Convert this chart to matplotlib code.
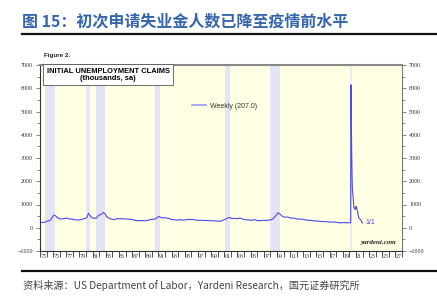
import matplotlib
matplotlib.use("Agg")
import matplotlib.pyplot as plt
import matplotlib.dates as mdates
import pandas as pd
from matplotlib.lines import Line2D

# ---------------- data ----------------
quarter_start = "1973-01-01"
quarter_end = "2019-12-31"
claims_quarterly = [
    230, 225, 235, 250,   # 1973
    290, 300, 340, 460,   # 1974
    545, 510, 440, 400,   # 1975
    380, 375, 400, 400,   # 1976
    420, 380, 370, 380,   # 1977
    350, 340, 340, 335,   # 1978
    345, 360, 385, 400,   # 1979
    440, 620, 520, 420,   # 1980
    420, 400, 430, 530,   # 1981
    560, 590, 660, 610,   # 1982
    480, 430, 390, 375,   # 1983
    350, 360, 385, 385,   # 1984
    385, 390, 390, 380,   # 1985
    375, 370, 370, 360,   # 1986
    340, 330, 310, 300,   # 1987
    310, 305, 310, 300,   # 1988
    300, 320, 340, 360,   # 1989
    360, 370, 400, 460,   # 1990
    480, 440, 430, 435,   # 1991
    420, 410, 400, 360,   # 1992
    350, 350, 335, 330,   # 1993
    340, 350, 330, 330,   # 1994
    340, 360, 360, 350,   # 1995
    360, 350, 330, 330,   # 1996
    320, 320, 320, 315,   # 1997
    310, 310, 310, 305,   # 1998
    300, 300, 290, 290,   # 1999
    285, 280, 300, 330,   # 2000
    360, 400, 430, 440,   # 2001
    390, 400, 400, 390,   # 2002
    400, 420, 400, 360,   # 2003
    350, 340, 340, 330,   # 2004
    320, 330, 350, 320,   # 2005
    300, 310, 310, 320,   # 2006
    320, 310, 320, 340,   # 2007
    350, 375, 450, 530,   # 2008
    640, 610, 550, 480,   # 2009
    460, 460, 460, 440,   # 2010
    410, 420, 410, 390,   # 2011
    370, 380, 370, 370,   # 2012
    350, 340, 320, 320,   # 2013
    320, 305, 295, 290,   # 2014
    290, 280, 270, 270,   # 2015
    265, 260, 260, 250,   # 2016
    245, 240, 250, 240,   # 2017
    225, 220, 210, 220,   # 2018
    220, 215, 215, 215,   # 2019
]

recent_dates = [
    "2020-01-04", "2020-02-08", "2020-03-07", "2020-03-14", "2020-03-21",
    "2020-03-28", "2020-04-04", "2020-04-11", "2020-04-18", "2020-04-25",
    "2020-05-09", "2020-05-23", "2020-06-06", "2020-06-20", "2020-07-04",
    "2020-07-25", "2020-08-15", "2020-08-29", "2020-09-19", "2020-10-10",
    "2020-10-31", "2020-11-21", "2020-12-12", "2021-01-09", "2021-01-30",
    "2021-02-20", "2021-03-13", "2021-04-03", "2021-04-24", "2021-05-15",
    "2021-06-05", "2021-06-26", "2021-07-17", "2021-08-07", "2021-08-28",
    "2021-09-18", "2021-10-09", "2021-10-30", "2021-11-20", "2021-12-11",
    "2022-01-01",
]
recent_claims = [
    215, 215, 215, 280, 3300,
    6150, 6100, 5600, 4800, 4100,
    3300, 2600, 2000, 1600, 1500,
    1350, 1150, 900, 870, 840,
    800, 780, 880, 920, 840,
    820, 760, 700, 600, 500,
    430, 410, 390, 380, 360,
    350, 320, 290, 240, 210,
    207,
]

recessions = [
    ("1973-11-01", "1975-03-31"),
    ("1980-01-01", "1980-07-31"),
    ("1981-07-01", "1982-11-30"),
    ("1990-07-01", "1991-03-31"),
    ("2001-03-01", "2001-11-30"),
    ("2007-12-01", "2009-06-30"),
    ("2020-02-01", "2020-04-30"),
]

legend_label = "Weekly (207.0)"
last_label = "1/1"

# ---------------- figure ----------------
plt.rcParams['font.family'] = ['Noto Sans CJK SC', 'DejaVu Sans']
fig = plt.figure(figsize=(4.37, 3.07), dpi=100)
W, H = 437, 307

ax = fig.add_axes([40 / W, 1 - 251 / H, 362 / W, 186 / H])
ax.set_facecolor("#ffffe3")

q_dates = pd.date_range(quarter_start, quarter_end, freq="QS") + pd.Timedelta(days=45)
x_all = list(q_dates) + list(pd.to_datetime(recent_dates))
y_all = claims_quarterly + recent_claims

for i, (s, e) in enumerate(recessions):
    col = "#e4e4f6" if i < len(recessions) - 1 else "#ececf2"
    ax.axvspan(pd.Timestamp(s), pd.Timestamp(e), color=col, lw=0, zorder=1)

ax.plot(x_all, y_all, color="#4a4af0", lw=0.8, zorder=3)

ax.set_xlim(pd.Timestamp("1973-01-01"), pd.Timestamp("2028-01-01"))
ax.set_ylim(-1000, 7000)

# x ticks: every year, labels at mid-year of odd years
ax.xaxis.set_major_locator(mdates.YearLocator(1))
ax.xaxis.set_major_formatter(plt.NullFormatter())
lab_pos = [pd.Timestamp(f"{y}-07-01") for y in range(1973, 2028, 2)]
ax.xaxis.set_minor_locator(plt.FixedLocator(mdates.date2num(lab_pos)))
ax.xaxis.set_minor_formatter(plt.FixedFormatter([f"{y % 100:02d}" for y in range(1973, 2028, 2)]))
ax.tick_params(axis="x", which="major", direction="out", length=4, width=0.6, color="#333333")
ax.tick_params(axis="x", which="minor", length=0, pad=2, labelsize=4.3, labelcolor="#333333")

# y ticks on both sides
ax.set_yticks(range(-1000, 7001, 1000))
ax.set_yticks(range(-500, 7000, 1000), minor=True)
ax.tick_params(axis="y", which="both", direction="out", left=True, right=True,
               labelleft=True, labelright=True, width=0.5, color="#555555",
               labelsize=4.3, labelcolor="#333333", pad=2)
ax.tick_params(axis="y", which="major", length=3)
ax.tick_params(axis="y", which="minor", length=2)
for lab in ax.get_xticklabels(which="minor") + ax.get_yticklabels():
    lab.set_family(["Liberation Serif"])

for side, (c, w) in {"left": ("#333333", 0.8), "bottom": ("#333333", 0.8),
                     "right": ("#777777", 0.8), "top": ("#888888", 1.5)}.items():
    ax.spines[side].set_color(c)
    ax.spines[side].set_linewidth(w)

# title box
ax.text(0.018, 0.985, "INITIAL UNEMPLOYMENT CLAIMS\n(thousands, sa)", transform=ax.transAxes,
        ha="left", va="top", fontsize=5.4, fontweight="bold", family=["Liberation Sans"],
        linespacing=1.0, multialignment="center",
        bbox=dict(boxstyle="square,pad=0.45", fc="white", ec="#555555", lw=0.6), zorder=5)

# legend
leg = ax.legend([Line2D([0], [0], color="#9a9af5", lw=1.2)], [legend_label],
                loc="upper left", bbox_to_anchor=(0.41, 0.815), frameon=False,
                prop={"family": "Liberation Sans", "size": 5}, handlelength=2.0,
                handletextpad=0.6, borderpad=0)
for t in leg.get_texts():
    t.set_color("#333333")

ax.annotate(last_label, xy=(x_all[-1], y_all[-1]), xytext=(2, 0), textcoords="offset points",
            ha="left", va="center", fontsize=5, color="#4a4af0", family=["Liberation Sans"])

ax.text(0.985, 0.03, "yardeni.com", transform=ax.transAxes, ha="right", va="bottom",
        fontsize=5, fontstyle="italic", fontweight="bold", family=["Liberation Serif"],
        color="#222222")

# figure-level text
fig.text(44 / W, 1 - 56 / H, "Figure 2.", ha="left", va="center", fontsize=4.5,
         fontweight="bold", family=["Liberation Sans"], color="#222222")

fig.text(22 / W, 1 - 21 / H, "图 15：初次申请失业金人数已降至疫情前水平", ha="left", va="center",
         fontsize=11.5, fontweight="bold", color="#3565ad",
         family=["Noto Sans CJK SC", "DejaVu Sans"])

fig.add_artist(Line2D([22 / W, 1.0], [1 - 34 / H, 1 - 34 / H], color="#111111", lw=1.6,
                      transform=fig.transFigure))
fig.add_artist(Line2D([22 / W, 1.0], [1 - 271 / H, 1 - 271 / H], color="#111111", lw=1.6,
                      transform=fig.transFigure))

fig.text(23 / W, 1 - 285 / H, "资料来源：US Department of Labor，Yardeni Research，国元证券研究所",
         ha="left", va="center", fontsize=7.3, color="#444444",
         family=["Noto Sans CJK SC", "DejaVu Sans"])

fig.savefig("out.png", dpi=100)
